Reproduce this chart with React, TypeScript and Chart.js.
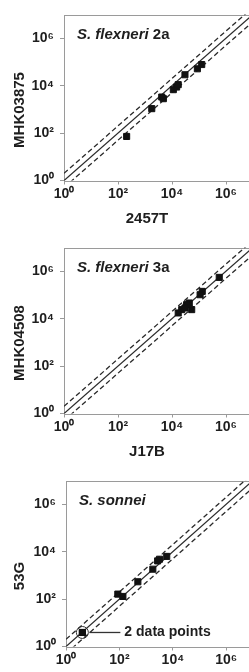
import { useEffect, useRef } from "react";
import { Chart, registerables } from "chart.js";

Chart.register(...registerables);

// ---- data ----
const panelTitlesItalic = ["S. flexneri", "S. flexneri", "S. sonnei"];
const panelTitlesPlain = [" 2a", " 3a", ""];
const xTitles = ["2457T", "J17B", ""];
const yTitles = ["MHK03875", "MHK04508", "53G"];

const tickValues = [1, 100, 10000, 1000000];
const tickLabels = ["10⁰", "10²", "10⁴", "10⁶"];

const flex2aX = [209, 1780, 4170, 4790, 11200, 14800, 17000, 30200, 87100, 126000];
const flex2aY = [72, 1070, 3310, 2820, 6760, 8710, 11000, 28800, 51300, 77600];

const flex3aX = [562000, 132000, 110000, 43600, 34700, 53700, 22900, 17000, 30200];
const flex3aY = [550000, 141000, 102000, 45700, 38900, 24000, 24000, 17400, 28200];

const sonneiX = [4.1, 4.1, 87, 135, 490, 1780, 2690, 3160, 5890];
const sonneiY = [3.9, 3.9, 162, 129, 537, 1820, 4070, 4790, 6310];

const lineX = [1, 10000000];
const folds = [1, 2, 0.5];

const annotationText = "2 data points";

const panelsX = [flex2aX, flex3aX, sonneiX];
const panelsY = [flex2aY, flex3aY, sonneiY];

const FONT = "'Liberation Sans', Arial, Helvetica, sans-serif";
const TEXT = "#1e1e1e";
const GRAY = "#9a9a9a";

function Panel({ idx }: { idx: number }) {
  const ref = useRef<HTMLCanvasElement | null>(null);
  useEffect(() => {
    if (!ref.current) return;
    const xs = panelsX[idx];
    const ys = panelsY[idx];
    const pts = xs.map((x, i) => ({ x, y: ys[i] }));
    const lineSets = folds.map((f) => ({
      type: "line" as const,
      data: lineX.map((x) => ({ x, y: x * f })),
      borderColor: "#2a2a2a",
      borderWidth: 1.3,
      borderDash: f === 1 ? [] : [5, 3],
      pointRadius: 0,
      fill: false,
      showLine: true,
      order: 2,
    }));
    const leftW = idx === 2 ? 66 : 64;
    const chartPlugin = {
      id: "decor" + idx,
      beforeDatasetsDraw(chart: any) {
        const { ctx, chartArea } = chart;
        ctx.save();
        ctx.strokeStyle = GRAY;
        ctx.lineWidth = 1;
        ctx.strokeRect(
          Math.round(chartArea.left) + 0.5,
          Math.round(chartArea.top) + 0.5,
          chartArea.right - chartArea.left,
          chartArea.bottom - chartArea.top
        );
        ctx.restore();
      },
      afterDraw(chart: any) {
        const { ctx, chartArea } = chart;
        ctx.save();
        ctx.fillStyle = TEXT;
        // panel title
        ctx.textBaseline = "alphabetic";
        ctx.textAlign = "left";
        ctx.font = `italic bold 15px ${FONT}`;
        const tx = chartArea.left + 13;
        const ty = chartArea.top + 24;
        ctx.fillText(panelTitlesItalic[idx], tx, ty);
        const w = ctx.measureText(panelTitlesItalic[idx]).width;
        ctx.font = `bold 15px ${FONT}`;
        ctx.fillText(panelTitlesPlain[idx], tx + w, ty);
        // x title
        ctx.font = `bold 15px ${FONT}`;
        ctx.textAlign = "center";
        ctx.textBaseline = "middle";
        if (xTitles[idx]) ctx.fillText(xTitles[idx], 147, chartArea.bottom + 38);
        // y title
        ctx.save();
        ctx.translate(20, 110);
        ctx.rotate(-Math.PI / 2);
        ctx.fillText(yTitles[idx], 0, 0);
        ctx.restore();
        // annotation
        if (idx === 2) {
          const xs2 = chart.scales.x;
          const ys2 = chart.scales.y;
          const px = xs2.getPixelForValue(sonneiX[0]);
          const py = ys2.getPixelForValue(sonneiY[0]);
          ctx.strokeStyle = "#333";
          ctx.lineWidth = 1;
          ctx.beginPath();
          ctx.arc(px, py, 6, 0, Math.PI * 2);
          ctx.stroke();
          ctx.lineWidth = 1.3;
          ctx.beginPath();
          ctx.moveTo(px + 7, py);
          ctx.lineTo(px + 38, py);
          ctx.stroke();
          ctx.textAlign = "left";
          ctx.font = `bold 14px ${FONT}`;
          ctx.fillText(annotationText, px + 42, py);
        }
        ctx.restore();
      },
    };
    const setTicks = (scale: any) => {
      scale.ticks = tickValues.map((v) => ({ value: v }));
    };
    const tickCb = (v: any) => {
      const i = tickValues.indexOf(Number(v));
      return i >= 0 ? tickLabels[i] : "";
    };
    const chart = new Chart(ref.current, {
      type: "scatter",
      data: {
        datasets: [
          {
            data: pts,
            backgroundColor: "#111",
            borderColor: "#111",
            pointStyle: "rect",
            pointRadius: 4.3,
            order: 1,
          } as any,
          ...lineSets,
        ],
      },
      options: {
        animation: false,
        responsive: false,
        devicePixelRatio: 1,
        layout: { padding: { left: 0, top: 14.5, right: 9, bottom: 0 } },
        plugins: { legend: { display: false }, tooltip: { enabled: false } },
        scales: {
          x: {
            type: "logarithmic",
            min: 1,
            max: 10000000,
            afterBuildTicks: setTicks,
            afterFit: (s: any) => {
              s.height = 52.5;
            },
            grid: { drawOnChartArea: false, drawTicks: true, tickLength: 4, color: GRAY },
            border: { display: false },
            ticks: {
              callback: tickCb,
              autoSkip: false,
              maxRotation: 0,
              padding: 1,
              color: TEXT,
              font: { family: FONT, size: 14, weight: "bold" },
            },
          },
          y: {
            type: "logarithmic",
            min: 1,
            max: 10000000,
            afterBuildTicks: setTicks,
            afterFit: (s: any) => {
              s.width = leftW;
            },
            grid: { drawOnChartArea: false, drawTicks: true, tickLength: 4, color: GRAY },
            border: { display: false },
            ticks: {
              callback: tickCb,
              autoSkip: false,
              padding: 6,
              color: TEXT,
              font: { family: FONT, size: 14, weight: "bold" },
            },
          },
        },
      } as any,
      plugins: [chartPlugin],
    });
    return () => chart.destroy();
  }, [idx]);
  return (
    <div style={{ position: "absolute", left: 0, top: idx * 233, width: 262, height: 233 }}>
      <canvas ref={ref} width={262} height={233} style={{ width: 262, height: 233, display: "block" }} />
    </div>
  );
}

export default function App() {
  return (
    <div
      style={{
        position: "absolute",
        left: 0,
        top: 0,
        width: 249,
        height: 672,
        overflow: "hidden",
        background: "#fff",
      }}
    >
      <Panel idx={0} />
      <Panel idx={1} />
      <Panel idx={2} />
    </div>
  );
}
